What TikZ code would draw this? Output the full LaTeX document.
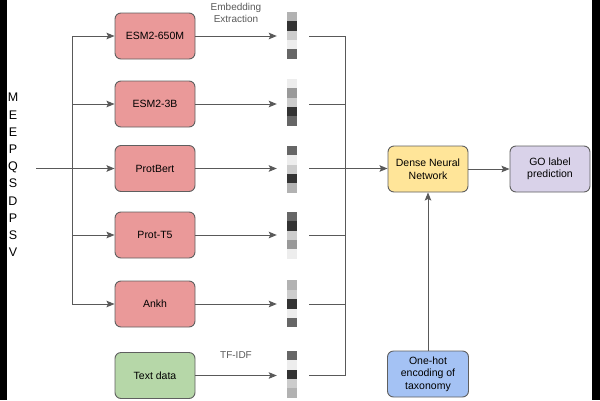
\documentclass[tikz,border=0pt]{standalone}
\usepackage{fontspec}
\setmainfont{Liberation Sans}
\usetikzlibrary{arrows.meta,calc}
\definecolor{boxline}{HTML}{5F5F5F}
\definecolor{linec}{HTML}{595959}
\definecolor{redf}{HTML}{EA9999}
\definecolor{greenf}{HTML}{B6D7A8}
\definecolor{yellowf}{HTML}{FFE599}
\definecolor{purplef}{HTML}{D9D2E9}
\definecolor{bluef}{HTML}{A4C2F4}
\definecolor{labc}{HTML}{595959}
\newcommand\embbar[6]{%
  \foreach \cc [count=\i from 0] in {#2,#3,#4,#5,#6}
    \fill[fill=\cc] ($(#1.north west)+(0,\i*9.4)$) rectangle ++(10,9.4);
}
\begin{document}
\begin{tikzpicture}[x=1pt,y=-1pt,
  box/.style={draw=boxline, line width=0.9pt, rounded corners=6pt,
    minimum width=80pt, minimum height=46pt, align=center, inner sep=2pt,
    font=\fontsize{10.5}{12.5}\selectfont},
  model/.style={box, fill=redf},
  embar/.style={minimum width=10pt, minimum height=47pt, inner sep=0pt},
  conn/.style={draw=linec, line width=1pt},
  arr/.style={conn, -{Stealth[length=8pt,width=6.5pt,inset=1.5pt]}},
  lab/.style={text=labc, align=center, font=\fontsize{10}{11.5}\selectfont}
]
\useasboundingbox (0,0) rectangle (600,400);
\fill[black] (0,0) rectangle (7,400);
\fill[black] (592,0) rectangle (600,400);

% sequence
\node[align=center, inner sep=0pt, font=\fontsize{12.5}{17.2}\selectfont] (seq) at (13,175)
  {M\\E\\E\\P\\Q\\S\\D\\P\\S\\V};

% model boxes
\node[model] (m1) at (155,36) {ESM2-650M};
\node[model] (m2) at (155,104) {ESM2-3B};
\node[model] (m3) at (155,168.5) {ProtBert};
\node[model] (m4) at (155,235) {Prot-T5};
\node[model] (m5) at (155,304) {Ankh};
\node[box, fill=greenf] (m6) at (155,375.5) {Text data};

\node[box, fill=yellowf] (dnn) at (428,169) {Dense Neural\\Network};
\node[box, fill=purplef] (go) at (550,169) {GO label\\prediction};
\node[box, fill=bluef, minimum width=81pt] (tax) at (428,374) {One-hot\\encoding of\\taxonomy};

% embedding bars
\node[embar] (b1) at (292,35.5) {};
\node[embar] (b2) at (292,102.5) {};
\node[embar] (b3) at (292,169.5) {};
\node[embar] (b4) at (292,235.5) {};
\node[embar] (b5) at (292,304) {};
\node[embar] (b6) at (292,374.5) {};
\embbar{b1}{black!30}{black!80}{black!20}{black!7}{black!60}
\embbar{b2}{black!7}{black!40}{black!20}{black!80}{black!60}
\embbar{b3}{black!60}{black!7}{black!20}{black!80}{black!30}
\embbar{b4}{black!60}{black!80}{black!20}{black!40}{black!7}
\embbar{b5}{black!30}{black!20}{black!80}{black!7}{black!60}
\embbar{b6}{black!60}{black!7}{black!80}{black!20}{black!30}

% labels
\node[lab] (embl) at (236,13) {Embedding\\Extraction};
\node[lab] (tfidf) at (236,355) {TF-IDF};

% input split
\coordinate (inp) at (36,168.5);
\coordinate (t1) at (72,36);
\coordinate (t5) at (72,304);
\draw[conn] (t1) -- (t5);
\draw[arr] (inp) -- (m3.west);
\foreach \m in {m1,m2,m4,m5}
  \draw[arr] (\m.west -| t1) -- (\m.west);

% model to bars
\foreach \m/\b in {m1/b1,m2/b2,m3/b3,m4/b4,m5/b5,m6/b6}
  \draw[arr, shorten >=10pt] (\m.east) -- (\m.east -| \b.west);

% bars to merge
\coordinate (jt) at (345,36);
\coordinate (jb) at (345,375.5);
\draw[conn] (jt) -- (jb);
\foreach \b/\m in {b1/m1,b2/m2,b4/m4,b5/m5,b6/m6}
  \draw[conn, shorten <=12pt] (\m.east -| \b.east) -- (\m.east -| jt);
\draw[arr, shorten <=12pt] (m3.east -| b3.east) -- (m3.east -| dnn.west);

% right part
\draw[arr] (dnn.east) -- (go.west);
\draw[arr] (tax.north) -- (dnn.south);
\end{tikzpicture}
\end{document}
